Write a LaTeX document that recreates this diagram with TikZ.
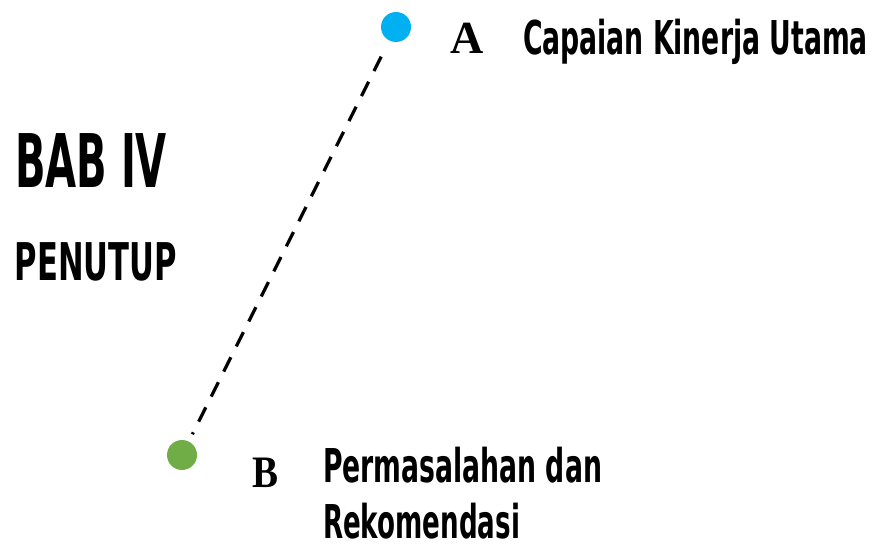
\documentclass[tikz,border=0pt]{standalone}
\usepackage{fontspec}
\usepackage{graphicx}
\newfontfamily\condfont{DejaVu Sans Condensed Bold}
\newfontfamily\letterfont{Liberation Serif Bold}
\definecolor{dotblue}{HTML}{00B0F0}
\definecolor{dotgreen}{HTML}{70AD47}
\newcommand{\fitw}[3]{\resizebox{#1}{\height}{\fontsize{#2}{#2}\condfont #3}}
\begin{document}
\begin{tikzpicture}[x=1pt,y=-1pt,
  txt/.style={inner sep=0pt, outer sep=0pt, anchor=base west},
  dotnode/.style={circle, minimum size=30pt, inner sep=0pt}]
\useasboundingbox (0,0) rectangle (875,546);
\node[dotnode, fill=dotblue] (A) at (396,27) {};
\node[dotnode, fill=dotgreen] (B) at (182,455) {};
\draw[line width=3.3pt, dash pattern=on 16pt off 12pt, shorten <=18pt, shorten >=8pt] (A) -- (B);
\node[txt] (la) at (450,53) {\fontsize{46pt}{46pt}\letterfont A};
\node[txt] (ta) at (523,54.3) {\fitw{345pt}{46.6pt}{Capaian Kinerja Utama}};
\node[txt] (bab) at (15,187) {\fitw{152pt}{74pt}{BAB IV}};
\node[txt] (pen) at (15,280) {\fitw{162pt}{52pt}{PENUTUP}};
\node[txt] (lb) at (252,487) {\resizebox{26pt}{\height}{\fontsize{45pt}{45pt}\letterfont B}};
\node[txt] (tb1) at (323,482) {\fitw{279pt}{46.6pt}{Permasalahan dan}};
\node[txt] (tb2) at (323,538) {\fitw{197pt}{46.6pt}{Rekomendasi}};
\end{tikzpicture}
\end{document}
